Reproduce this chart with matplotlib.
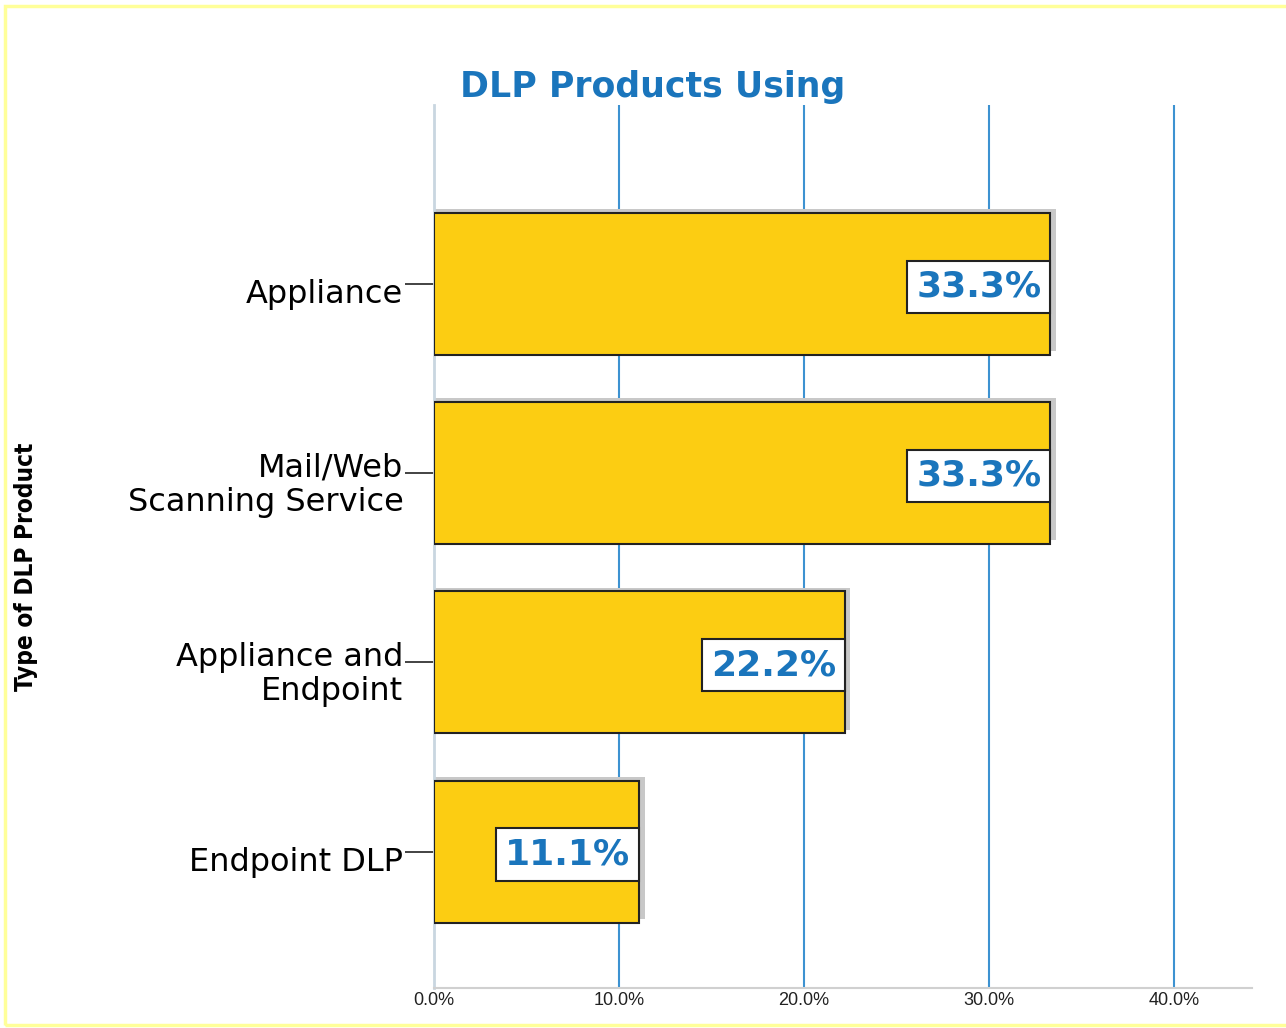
import matplotlib
matplotlib.use("Agg")
from matplotlib import pyplot as plt
from matplotlib.patches import Rectangle
from matplotlib.transforms import ScaledTranslation

# data
categories = ["Appliance", "Mail/Web\nScanning Service", "Appliance and\nEndpoint", "Endpoint DLP"]
percents = [33.3, 33.3, 22.2, 11.1]
xticks = [0, 10, 20, 30, 40]
xtick_labels = ["0.0%", "10.0%", "20.0%", "30.0%", "40.0%"]

bar_yellow = "#fccd12"
blue = "#1a75bc"
grid_blue = "#3d92d1"

fig = plt.figure(figsize=(12.86, 10.28), dpi=100)
ax = fig.add_axes([434 / 1286, 1 - 988 / 1028, (1252 - 434) / 1286, (988 - 105) / 1028])

ypos = list(range(len(categories)))

# shadow behind each bar
ax.barh([y - 0.02 for y in ypos], [p + 0.3 for p in percents], height=0.75,
        color="#c8c8c8", zorder=2)
ax.barh(ypos, percents, height=0.75, color=bar_yellow, edgecolor="#222222",
        linewidth=1.5, zorder=3)

for y, p in zip(ypos, percents):
    ax.annotate(f"{p:.1f}%", xy=(p, y), xytext=(-6.5, -2), textcoords="offset points",
                ha="right", va="center", fontsize=26, fontweight="bold", color=blue,
                family="DejaVu Sans", zorder=5,
                bbox=dict(boxstyle="square,pad=0.25", facecolor="white",
                          edgecolor="#222222", linewidth=1.5))

ax.set_xlim(0, 44.2)
ax.set_ylim(3.72, -0.945)
ax.set_xticks(xticks)
ax.set_xticklabels(xtick_labels, fontsize=13, family="Liberation Sans", color="#222222")
ax.tick_params(axis="x", length=0, pad=3)
ax.set_yticks(ypos)
ax.set_yticklabels(categories, fontsize=23, family="DejaVu Sans", ha="right",
                   linespacing=1.15)
ax.tick_params(axis="y", length=21, width=1.2, color="#222222", pad=1)
shift = ScaledTranslation(0, -5 / 72, fig.dpi_scale_trans)
for lbl in ax.get_yticklabels():
    lbl.set_transform(lbl.get_transform() + shift)

for x in xticks[1:]:
    ax.axvline(x, color=grid_blue, linewidth=1.5, zorder=1)

for side in ["top", "right"]:
    ax.spines[side].set_visible(False)
ax.spines["left"].set_color("#c9d6e0")
ax.spines["left"].set_linewidth(2)
ax.spines["bottom"].set_color("#d0d0d0")
ax.spines["bottom"].set_linewidth(1.5)

ax.set_ylabel("Type of DLP Product", fontsize=17.5, fontweight="bold",
              family="DejaVu Sans", fontstretch="condensed", va="center")
ax.yaxis.set_label_coords(26 / 1286, 1 - 567 / 1028, transform=fig.transFigure)

fig.text(653 / 1286, 1 - 87 / 1028, "DLP Products Using", ha="center", va="center",
         fontsize=25, fontweight="bold", color=blue, family="DejaVu Sans")

# screenshot frame
fig.patches.append(Rectangle((5 / 1286, 3 / 1028), 1.1, 1 - 9 / 1028,
                             transform=fig.transFigure, fill=False,
                             edgecolor="#ffff99", linewidth=2.5))

fig.savefig("out.png", dpi=100)
